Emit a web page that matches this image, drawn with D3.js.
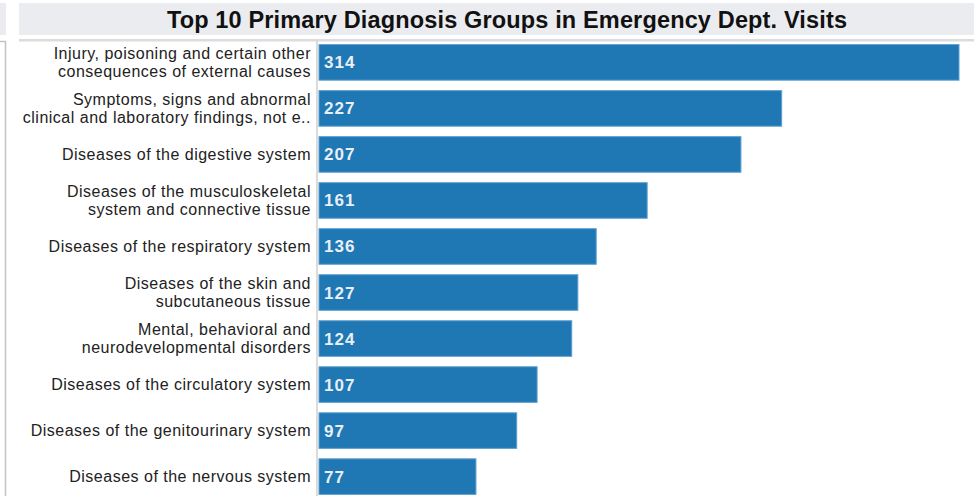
<!DOCTYPE html>
<html>
<head>
<meta charset="utf-8">
<script src="https://cdn.jsdelivr.net/npm/d3@7"></script>
<style>
  html, body { margin: 0; padding: 0; background: #fff; }
  svg { display: block; font-family: "Liberation Sans", Arial, sans-serif; }
</style>
</head>
<body>
<svg id="chart" width="974" height="496"></svg>
<script>
const title = "Top 10 Primary Diagnosis Groups in Emergency Dept. Visits";
const categories = [
  ["Injury, poisoning and certain other", "consequences of external causes"],
  ["Symptoms, signs and abnormal", "clinical and laboratory findings, not e.."],
  ["Diseases of the digestive system"],
  ["Diseases of the musculoskeletal", "system and connective tissue"],
  ["Diseases of the respiratory system"],
  ["Diseases of the skin and", "subcutaneous tissue"],
  ["Mental, behavioral and", "neurodevelopmental disorders"],
  ["Diseases of the circulatory system"],
  ["Diseases of the genitourinary system"],
  ["Diseases of the nervous system"]
];
const values = [314, 227, 207, 161, 136, 127, 124, 107, 97, 77];

const svg = d3.select("#chart");
const W = 974, H = 496;

// left panel remnant
svg.append("rect").attr("x", 0).attr("y", 3).attr("width", 6).attr("height", 32).attr("fill", "#ebecf0");
svg.append("path").attr("d", "M0,41.5H5.5V496").attr("fill", "none").attr("stroke", "#c4c4c4").attr("stroke-width", 1.5);

// title banner
svg.append("rect").attr("x", 19).attr("y", 3).attr("width", W - 19).attr("height", 32).attr("fill", "#ebecf0");
svg.append("line").attr("x1", 19).attr("x2", W).attr("y1", 40).attr("y2", 40).attr("stroke", "#b8b8b8").attr("stroke-width", 1);
svg.append("line").attr("x1", 19).attr("x2", W).attr("y1", 41).attr("y2", 41).attr("stroke", "#dcdcdc").attr("stroke-width", 1);
svg.append("text").attr("x", 507).attr("y", 28.3).attr("text-anchor", "middle")
  .attr("font-size", 23.5).attr("font-weight", "bold").attr("letter-spacing", 0.15)
  .attr("fill", "#111").text(title);

const x0 = 319;
const x = d3.scaleLinear().domain([0, 314]).range([x0, 959]);
const y = d3.scaleBand().domain(d3.range(values.length)).range([40, 499]).paddingInner(0.227).paddingOuter(0.1);

// axis line
svg.append("line").attr("x1", 317).attr("x2", 317).attr("y1", 41).attr("y2", H).attr("stroke", "#cfcfcf").attr("stroke-width", 1.5);

const g = svg.append("g");
g.selectAll("rect.bar").data(values).join("rect").attr("class", "bar")
  .attr("x", x(0)).attr("y", (d, i) => y(i))
  .attr("width", d => x(d) - x(0)).attr("height", y.bandwidth())
  .attr("fill", "#1f77b4").attr("stroke", "#5d9fd0").attr("stroke-width", 1);

g.selectAll("text.val").data(values).join("text").attr("class", "val")
  .attr("x", x(0) + 5).attr("y", (d, i) => y(i) + y.bandwidth() / 2 + 6)
  .attr("font-size", 17).attr("font-weight", "bold").attr("letter-spacing", 1)
  .attr("fill", "#e9eff6").text(d => d);

const labels = g.selectAll("text.cat").data(categories).join("text").attr("class", "cat")
  .attr("text-anchor", "end").attr("font-size", 16).attr("letter-spacing", 0.5).attr("fill", "#222")
  .attr("x", 311)
  .attr("y", (d, i) => y(i) + y.bandwidth() / 2 + 5.5 - (d.length - 1) * 9.25);
labels.selectAll("tspan").data(d => d).join("tspan")
  .attr("x", 311).attr("dy", (d, j) => j === 0 ? 0 : 18.5).text(d => d);
</script>
</body>
</html>
